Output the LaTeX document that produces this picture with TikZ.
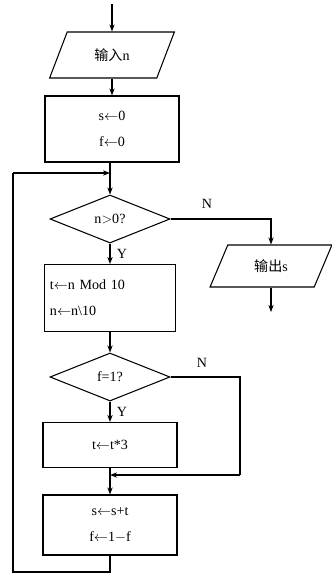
\documentclass[tikz,border=0pt]{standalone}
\usepackage{fontspec}
\setmainfont{Liberation Serif}
\newfontfamily\cjk{Noto Sans CJK SC}
\usetikzlibrary{shapes.geometric,arrows.meta}
\begin{document}
\begin{tikzpicture}[x=0.03cm,y=-0.03cm, line width=0.9pt,
  >={Stealth[length=6pt,width=4.5pt]},
  txt/.style={font=\fontsize{12}{22}\selectfont},
  box/.style={txt, draw, rectangle, minimum width=4.02cm, inner sep=3pt},
  dec/.style={txt, draw, diamond, minimum width=3.6cm, minimum height=1.44cm, inner sep=0pt},
  io/.style={txt, draw, trapezium, trapezium left angle=62, trapezium right angle=118,
    trapezium stretches=true, inner sep=0pt},
  lbl/.style={font=\fontsize{12}{14}\selectfont}]
\useasboundingbox (0,0) rectangle (332,575);

\coordinate (start) at (112,4);
\node[io, minimum width=3.75cm, minimum height=1.38cm] (in) at (112,55) {{\cjk 输入}n};
\node[box, minimum height=1.98cm, align=center] (b1) at (112,129) {s$\leftarrow$0\\f$\leftarrow$0};
\node[dec] (d1) at (110,219) {n$>$0?};
\node[io, minimum width=3.66cm, minimum height=1.26cm] (out) at (271,266) {{\cjk 输出}s};
\coordinate (outend) at (271,312);
\coordinate (nc) at (271,214);
\node[box, minimum width=3.93cm, minimum height=2.01cm, align=left, text width=3.6cm] (b2) at (110,298) {t$\leftarrow$n Mod 10\\n$\leftarrow$n\textbackslash10};
\node[dec] (d2) at (110,377) {f=1?};
\node[box, minimum height=1.35cm] (b3) at (110,445) {t$\leftarrow$t*3};
\node[box, minimum height=1.8cm, align=center] (b4) at (110,525) {s$\leftarrow$s+t\\f$\leftarrow$1$-$f};

\coordinate (j1) at (110,173);
\coordinate (j2) at (110,475);
\coordinate (r2) at (240,377);
\coordinate (r2b) at (240,475);
\coordinate (lb) at (110,572);
\coordinate (ll) at (13,572);
\coordinate (lt) at (13,173);

\draw[->] (start) -- (in.north -| start);
\draw[->] (in.south -| start) -- (b1.north -| start);
\draw (b1.south -| j1) -- (j1);
\draw[->] (j1) -- (d1.north);
\draw[->] (d1.south) -- node[lbl, right, pos=0.5, xshift=2pt] {Y} (b2.north -| d1.south);
\draw[->] (d1.east) -- (d1.east -| nc) -- (out.north -| nc);
\node[lbl] (n1) at (207,204) {N};
\draw[->] (out.south -| outend) -- (outend);
\draw[->] (b2.south) -- (d2.north);
\draw[->] (d2.south) -- node[lbl, right, pos=0.5, xshift=2pt] {Y} (b3.north);
\draw (d2.east) -- (r2) -- (r2b);
\draw[->] (r2b) -- (j2);
\node[lbl] (n2) at (202,363) {N};
\draw (b3.south) -- (j2);
\draw[->] (j2) -- (b4.north);
\draw (b4.south) -- (lb) -- (ll) -- (lt);
\draw[->] (lt) -- (j1);
\end{tikzpicture}
\end{document}
